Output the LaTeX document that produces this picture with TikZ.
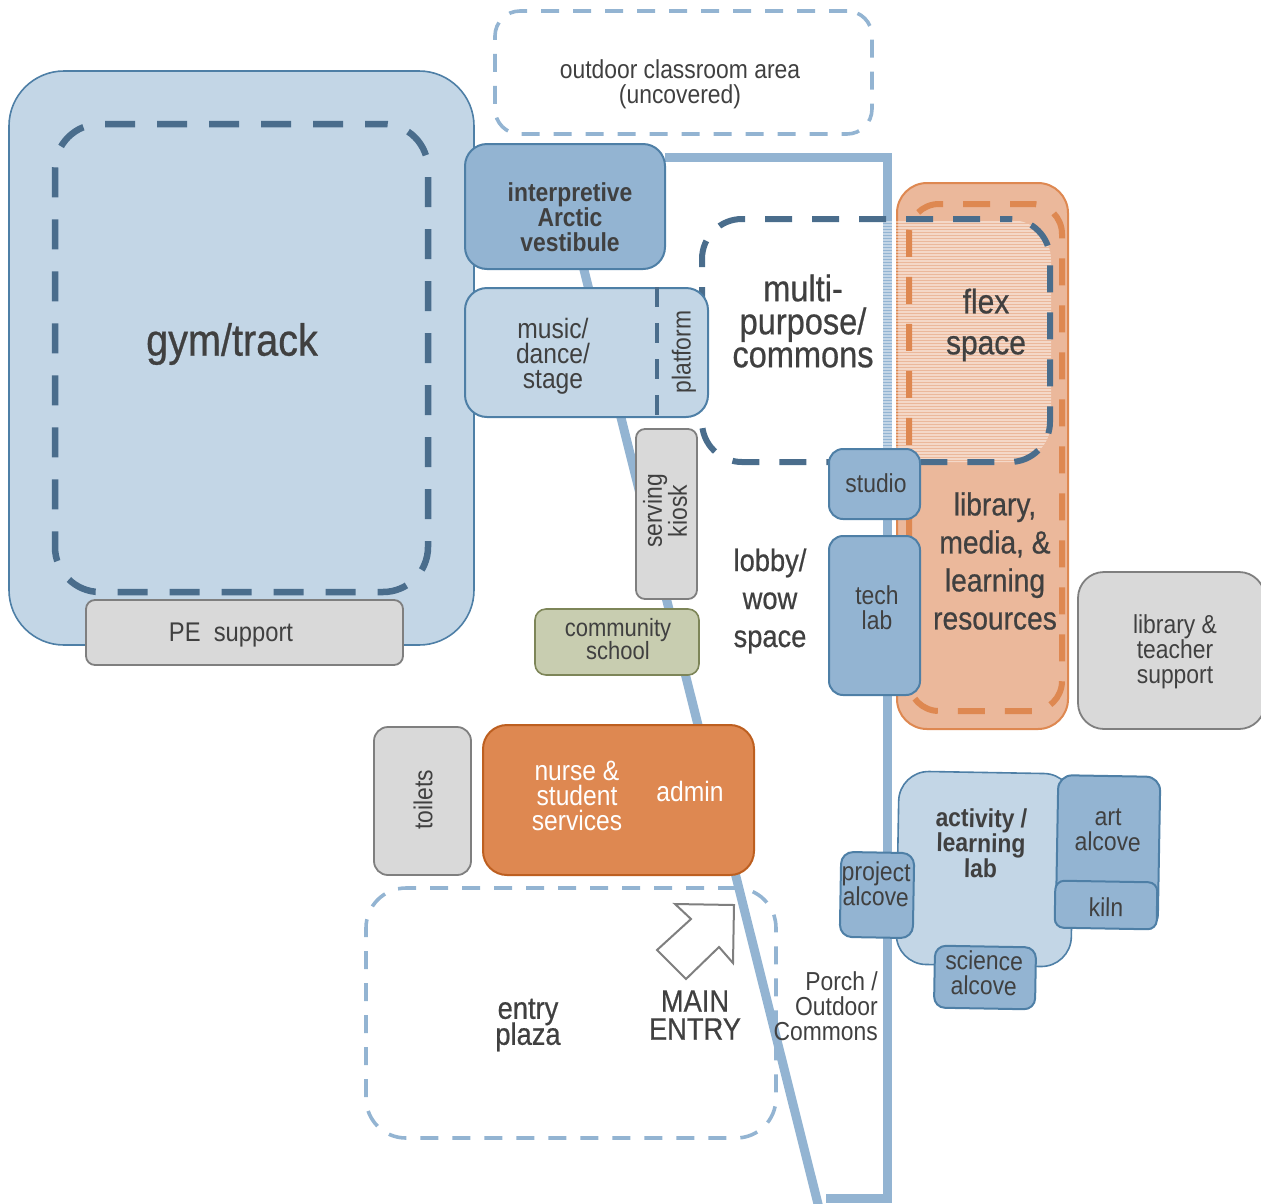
\documentclass[tikz,border=0pt]{standalone}
\usepackage{fontspec}
\setmainfont{Liberation Sans}[FakeStretch=0.88]
\newfontfamily\heavyfont{Liberation Sans}[FakeStretch=0.88,FakeBold=0.6]
\usepackage{tikz}
\usetikzlibrary{positioning}

\definecolor{txtgray}{HTML}{404040}
\definecolor{paleblue}{HTML}{C3D6E6}
\definecolor{midblue}{HTML}{93B4D2}
\definecolor{edgeblue}{HTML}{4E7FA6}
\definecolor{darkblue}{HTML}{4A6D8C}
\definecolor{roomgray}{HTML}{D9D9D9}
\definecolor{edgegray}{HTML}{7F7F7F}
\definecolor{peach}{HTML}{EBB89B}
\definecolor{orange}{HTML}{DE8851}
\definecolor{rust}{HTML}{BD5F20}
\definecolor{olive}{HTML}{C8CDB0}
\definecolor{oliveedge}{HTML}{7D8558}

\newcommand{\fsz}[2]{\fontsize{#1}{#2}\selectfont\lineskiplimit=-100pt}

\tikzset{
    lbl/.style={align=center, text=txtgray, inner sep=0pt},
    room/.style={draw, rectangle, align=center, text=txtgray, inner sep=0pt, line width=1.6pt},
    paleroom/.style={room, fill=paleblue, draw=edgeblue},
    blueroom/.style={room, fill=midblue, draw=edgeblue, line width=2pt},
    grayroom/.style={room, fill=roomgray, draw=edgegray, line width=1.8pt},
    zone/.style={draw, rectangle, inner sep=0pt, line width=6pt, dash pattern=on 27pt off 20pt},
    lightzone/.style={draw=midblue, rectangle, inner sep=0pt, line width=3.6pt, dash pattern=on 18pt off 14pt},
    frameline/.style={draw=midblue, line width=9pt}
}

\begin{document}
\begin{tikzpicture}[x=1pt, y=-1pt]
    \useasboundingbox (0,0) rectangle (1261,1203);

    % building outline
    \draw [frameline] (665,157) -- (887,157) -- (887,1198) -- (826,1198);
    \node [lightzone, rounded corners=40pt, minimum width=410, minimum height=250] (plaza) at (571,1013) {};
    \draw [frameline] (579,250) -- (820,1212);
    \node [lightzone, rounded corners=25pt, minimum width=377, minimum height=123] (classroom) at (683.5,72.5) {};
    \node [lbl, font=\fsz{26}{25}] (classroomtxt) at (680,84) {outdoor classroom area\\(uncovered)};

    % gym
    \node [paleroom, rounded corners=55pt, minimum width=465, minimum height=574] (gym) at (241.5,358) {};
    \node [zone, draw=darkblue, line width=6.5pt, dash pattern=on 30pt off 22pt, rounded corners=45pt,
        minimum width=373, minimum height=468, dash phase=12pt] (gymzone) at (241.5,358) {};
    \node [lbl, font=\heavyfont\fsz{45}{45}] (gymtxt) at (232,344) {gym/track};
    \node [grayroom, rounded corners=9pt, minimum width=317, minimum height=65] (pe) at (244.5,632.5) {};
    \node [lbl, font=\fsz{27}{30}] (petxt) at (231,635) {PE\ \ support};

    % library and flex space
    \node [room, fill=peach, draw=orange, line width=2pt, rounded corners=30pt, minimum width=171, minimum height=546] (library) at (982.5,456) {};
    \begin{scope}
        \clip (883,219) rectangle (1052,464);
        \clip [rounded corners=40pt] (702,220) rectangle (1051,462);
        \foreach \y in {222,225,...,462}
            \draw [white, line width=1.2pt, opacity=0.45] (883,\y) -- (1052,\y);
    \end{scope}
    \node [zone, draw=orange, rounded corners=30pt, minimum width=153, minimum height=507, dash phase=5pt] (libzone) at (985.5,457.5) {};
    \node [zone, draw=darkblue, rounded corners=40pt, minimum width=348, minimum height=243, dash phase=17pt] (multi) at (876,340.5) {};
    \node [lbl, font=\heavyfont\fsz{37}{33}] (multitxt) at (803,321) {multi-\\purpose/\\commons};
    \node [lbl, font=\heavyfont\fsz{34}{41}] (flextxt) at (986,325) {flex\\space};
    \node [lbl, font=\heavyfont\fsz{32}{38}] (librarytxt) at (995,561) {library,\\media, \&\\learning\\resources};

    % rooms along the spine
    \node [blueroom, rounded corners=22pt, minimum width=200, minimum height=125] (vestibule) at (565,206.5) {};
    \node [lbl, font=\bfseries\fsz{26}{25}] (vestibuletxt) at (570,217) {interpretive\\Arctic\\vestibule};
    \node [paleroom, line width=2pt, rounded corners=22pt, minimum width=243, minimum height=129] (music) at (586.5,352.5) {};
    \draw [darkblue, line width=4pt, dash pattern=on 20pt off 16pt] (music.north) ++(70.5,0) coordinate (pa) -- (pa |- music.south);
    \node [lbl, font=\fsz{28}{25}] (musictxt) at (553,356) {music/\\dance/\\stage};
    \node [lbl, rotate=90, font=\fsz{26}{26}] (platform) at (684,352) {platform};
    \node [grayroom, rounded corners=9pt, minimum width=61, minimum height=170] (kiosk) at (666.5,514) {};
    \node [lbl, rotate=90, font=\fsz{26}{25}] (kiosktxt) at (665,511) {serving\\kiosk};
    \node [room, fill=olive, draw=oliveedge, rounded corners=11pt, minimum width=164, minimum height=66] (community) at (617,642) {};
    \node [lbl, font=\fsz{25}{23}] (communitytxt) at (618,639) {community\\school};
    \node [blueroom, rounded corners=14pt, minimum width=91, minimum height=70] (studio) at (874.5,484) {};
    \node [lbl, font=\fsz{26}{28}] (studiotxt) at (876,483) {studio};
    \node [blueroom, rounded corners=14pt, minimum width=91, minimum height=159] (tech) at (874.5,615.5) {};
    \node [lbl, font=\fsz{26}{25}] (techtxt) at (877,608) {tech\\lab};
    \node [lbl, font=\heavyfont\fsz{31}{38}] (lobby) at (770,601) {lobby/\\wow\\space};
    \node [grayroom, rounded corners=26pt, minimum width=187, minimum height=157] (support) at (1171.5,650.5) {};
    \node [lbl, font=\fsz{26}{25}] (supporttxt) at (1175,652) {library \&\\teacher\\support};

    % front of the school
    \node [grayroom, rounded corners=14pt, minimum width=97, minimum height=148] (toilets) at (422.5,801) {};
    \node [lbl, rotate=90, font=\fsz{26}{26}] (toiletstxt) at (423,800) {toilets};
    \node [room, fill=orange, draw=rust, line width=2pt, rounded corners=24pt, minimum width=271, minimum height=150] (nurse) at (618.5,800) {};
    \node [lbl, text=white, font=\fsz{28}{25}] (nursetxt) at (577,796) {nurse \&\\student\\services};
    \node [lbl, text=white, font=\fsz{28}{25}] (admin) at (690,791) {admin};
    \node [lbl, font=\heavyfont\fsz{31}{26}] (plazatxt) at (528,1025) {entry\\plaza};
    \draw [fill=white, draw=edgegray, line width=2pt] (675,904) -- (734,905) -- (733,963) -- (719,947)
        -- (686,979) -- (657,950) -- (691,919) -- cycle;
    \node [lbl, font=\heavyfont\fsz{31}{28}] (mainentry) at (695,1015) {MAIN\\ENTRY};
    \node [lbl, align=right, anchor=east, font=\fsz{26}{25}] (porch) at (878,1006) {Porch /\\Outdoor\\Commons};

    % activity lab and its alcoves
    \node [paleroom, rotate=-1, rounded corners=30pt, minimum width=175, minimum height=193] (lab) at (985,869) {};
    \node [lbl, font=\bfseries\fsz{26}{25}, rotate=-1] (labtxt) at (981,843) {activity /\\learning\\lab};
    \node [blueroom, rotate=-1, rounded corners=14pt, minimum width=102, minimum height=152] (art) at (1108,852) {};
    \node [lbl, rotate=-1, font=\fsz{26}{25}] (arttxt) at (1108,830) {art\\alcove};
    \node [blueroom, rotate=-1, rounded corners=9pt, minimum width=102, minimum height=47] (kiln) at (1106,905) {};
    \node [lbl, rotate=-1, font=\fsz{26}{26}] (kilntxt) at (1106,907) {kiln};
    \node [blueroom, rotate=-1, rounded corners=12pt, minimum width=73, minimum height=85] (project) at (877,895) {};
    \node [lbl, rotate=-1, font=\fsz{26}{25}] (projecttxt) at (876,884) {project\\alcove};
    \node [blueroom, rotate=-1, rounded corners=11pt, minimum width=101, minimum height=62] (science) at (985,977.5) {};
    \node [lbl, rotate=-1, font=\fsz{26}{25}] (sciencetxt) at (984,973) {science\\alcove};
\end{tikzpicture}
\end{document}
